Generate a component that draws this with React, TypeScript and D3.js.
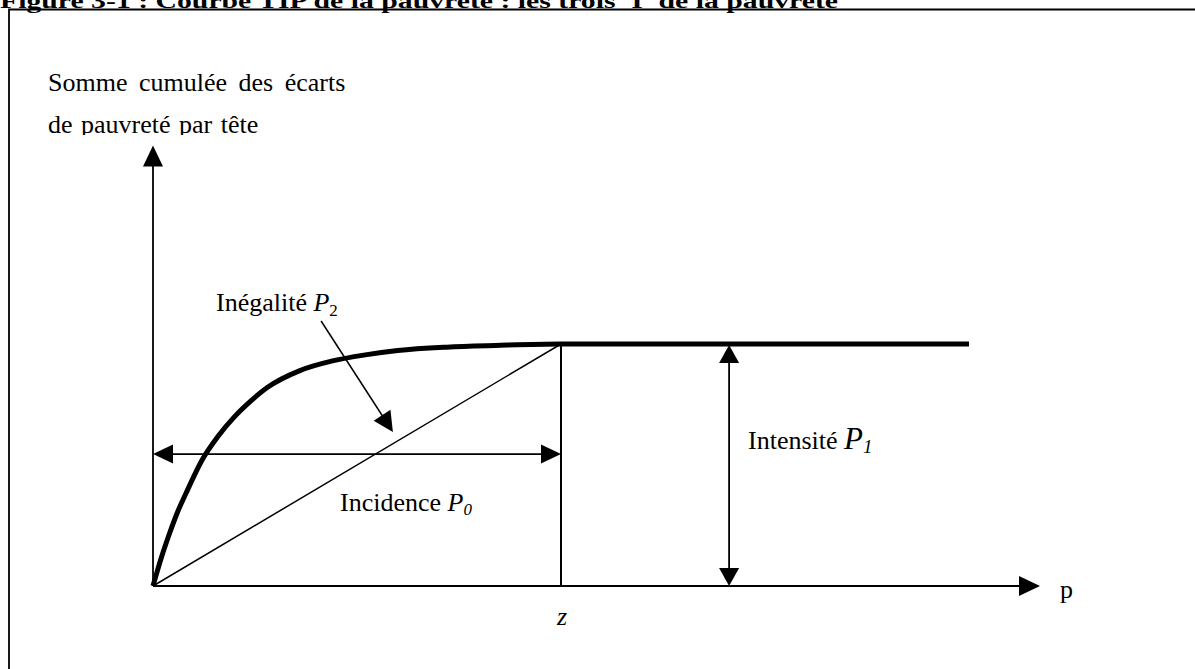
import React from "react";
import * as d3 from "d3";

// TIP curve (p in % of population, cumulated gap in % of the plateau)
const curveP = [0, 1, 2, 3, 4, 6, 8, 10, 12, 14, 18, 22, 26, 30, 36, 42, 50];
const curveV = [0, 11.5, 21.5, 30.5, 38, 52, 62, 70, 76.5, 82, 89, 93, 95.5, 97.3, 98.7, 99.4, 100];

const zValue = 50; // poverty line on the p axis
const plateau = 100; // total gap (intensity)
const curveEnd = 100;
const xAxisEnd = 108.7;
const yAxisEnd = 182;
const intensityAt = 70.6;
const incidenceLevel = 54.5;
const inequalityArrow = [
  [20.6, 109.5],
  [29.4, 63.6],
];

const title = "Figure 3-1 : Courbe TIP de la pauvreté : les trois 'I' de la pauvreté";
const yLabel = ["Somme cumulée des écarts", "de pauvreté par tête"];

const W = 1195;
const H = 669;
const font = "'Liberation Serif', 'Times New Roman', serif";

const x = d3.scaleLinear().domain([0, 100]).range([153, 969]);
const y = d3.scaleLinear().domain([0, 100]).range([586, 344]);

// triangle arrowhead with its tip at (tx, ty), pointing along angle a
const head = (tx: number, ty: number, a: number, len = 20, hw = 10) => {
  const bx = tx - Math.cos(a) * len;
  const by = ty - Math.sin(a) * len;
  const nx = -Math.sin(a) * hw;
  const ny = Math.cos(a) * hw;
  const p = d3.path();
  p.moveTo(tx, ty);
  p.lineTo(bx + nx, by + ny);
  p.lineTo(bx - nx, by - ny);
  p.closePath();
  return p.toString();
};

const App = () => {
  const pts: [number, number][] = curveP.map((p, i) => [x(p), y(curveV[i])]);
  pts.push([x(curveEnd), y(plateau)]);
  const line = d3.line().curve(d3.curveMonotoneX)(pts) as string;

  const x0 = x(0);
  const y0 = y(0);
  const xz = x(zValue);
  const yTop = y(plateau);
  const xi = x(intensityAt);
  const yInc = y(incidenceLevel);
  const [a0, a1] = inequalityArrow;
  const ax0 = x(a0[0]);
  const ay0 = y(a0[1]);
  const ax1 = x(a1[0]);
  const ay1 = y(a1[1]);
  const ang = Math.atan2(ay1 - ay0, ax1 - ax0);

  return (
    <svg
      width={W}
      height={H}
      style={{ position: "absolute", left: 0, top: 0, background: "#fff" }}
      fontFamily={font}
    >
      <defs>
        <clipPath id="clipLabel">
          <rect x={0} y={0} width={W} height={135} />
        </clipPath>
      </defs>

      <text
        x={0}
        y={7.5}
        fontSize={22}
        fontWeight="bold"
        textLength={838}
        lengthAdjust="spacingAndGlyphs"
      >
        {title}
      </text>

      {/* frame */}
      <path d={`M9,${H} V9.5 H${W}`} fill="none" stroke="#000" strokeWidth={1.8} />

      {/* axis label */}
      <text x={48} y={91} fontSize={26} wordSpacing={5}>
        {yLabel[0]}
      </text>
      <text x={48} y={133} fontSize={26} wordSpacing={2} clipPath="url(#clipLabel)">
        {yLabel[1]}
      </text>

      {/* axes */}
      <line x1={x0} y1={y0} x2={x0} y2={y(yAxisEnd) + 15} stroke="#000" strokeWidth={1.8} />
      <path d={head(x0, y(yAxisEnd), -Math.PI / 2, 21, 10)} fill="#000" />
      <line x1={x0} y1={y0} x2={x(xAxisEnd) - 15} y2={y0} stroke="#000" strokeWidth={1.8} />
      <path d={head(x(xAxisEnd), y0, 0, 21, 10)} fill="#000" />
      <text x={1060} y={598} fontSize={26}>
        p
      </text>

      {/* diagonal and z line */}
      <line x1={x0} y1={y0} x2={xz} y2={yTop} stroke="#000" strokeWidth={1.5} />
      <line x1={xz} y1={yTop} x2={xz} y2={y0} stroke="#000" strokeWidth={2} />
      <text x={557} y={625} fontSize={26} fontStyle="italic">
        z
      </text>

      {/* TIP curve */}
      <path d={line} fill="none" stroke="#000" strokeWidth={5} />

      {/* incidence arrow */}
      <line x1={x0 + 10} y1={yInc} x2={xz - 10} y2={yInc} stroke="#000" strokeWidth={1.8} />
      <path d={head(x0, yInc, Math.PI, 20, 9.5)} fill="#000" />
      <path d={head(xz, yInc, 0, 20, 9.5)} fill="#000" />
      <text x={340} y={511} fontSize={26}>
        Incidence{" "}
        <tspan fontStyle="italic">P</tspan>
        <tspan fontStyle="italic" fontSize={17} dy={4}>
          0
        </tspan>
      </text>

      {/* intensity arrow */}
      <line x1={xi} y1={yTop + 10} x2={xi} y2={y0 - 10} stroke="#000" strokeWidth={1.8} />
      <path d={head(xi, yTop + 1, -Math.PI / 2, 18, 10)} fill="#000" />
      <path d={head(xi, y0, Math.PI / 2, 18, 10)} fill="#000" />
      <text x={748} y={449} fontSize={26}>
        Intensité{" "}
        <tspan fontStyle="italic" fontSize={31}>
          P
        </tspan>
        <tspan fontStyle="italic" fontSize={19} dy={4}>
          1
        </tspan>
      </text>

      {/* inequality arrow */}
      <line
        x1={ax0}
        y1={ay0}
        x2={ax1 - Math.cos(ang) * 12}
        y2={ay1 - Math.sin(ang) * 12}
        stroke="#000"
        strokeWidth={1.5}
      />
      <path d={head(ax1, ay1, ang, 20, 10)} fill="#000" />
      <text x={216} y={311} fontSize={26}>
        Inégalité{" "}
        <tspan fontStyle="italic">P</tspan>
        <tspan fontSize={17} dy={5}>
          2
        </tspan>
      </text>
    </svg>
  );
};

export default App;
